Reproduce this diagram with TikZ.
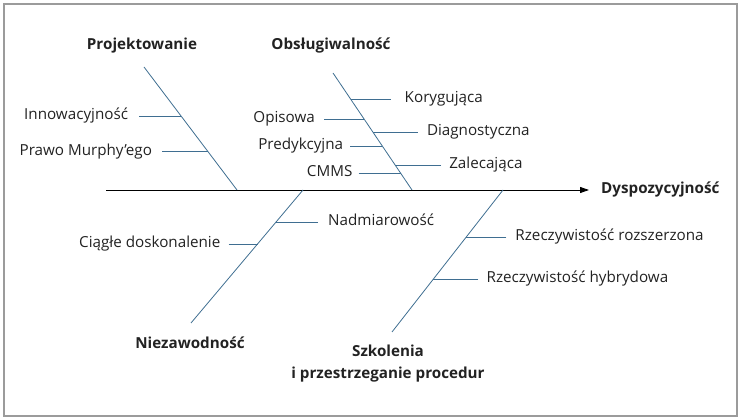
\documentclass[tikz,border=0pt]{standalone}
\usepackage{fontspec}
\setmainfont{Open Sans}
\usetikzlibrary{arrows.meta, positioning, calc}
\definecolor{bonecol}{HTML}{3F6E91}
\definecolor{framegray}{HTML}{9B9B9B}
\definecolor{dkgray}{HTML}{222222}

\begin{document}
\begin{tikzpicture}[
    x=1pt, y=-1pt,
    bone/.style={draw=bonecol, line width=0.8pt},
    twig/.style={draw=bonecol, line width=0.8pt},
    cause/.style={font=\fontsize{15.2}{17}\selectfont, text=dkgray,
        text height=11pt, text depth=3.5pt, inner xsep=#1, inner ysep=1pt},
    cause/.default=9pt,
    head/.style={font=\fontsize{15.2}{22}\selectfont\bfseries, text=dkgray, align=center}
]
\useasboundingbox (0,0) rectangle (741,419);
\draw[framegray, line width=1.2pt] (4,4) rectangle (737,416);

% ===== Spine =====
\coordinate (tail) at (106,190);
\node[head, anchor=west, inner xsep=12pt] (eff) at (589,190) {Dyspozycyjność};
\draw[-{Triangle[length=9pt, width=6pt]}, line width=0.9pt] (tail) -- (eff);

% ===== Projektowanie =====
\node[head] (proj) at (142,46) {Projektowanie};
\coordinate (pj1) at (144,67);
\coordinate (pj2) at (237,190);
\draw[bone] (pj1) -- (pj2);
\coordinate (pjA) at ($(pj1)!0.40!(pj2)$);
\coordinate (pjB) at ($(pj1)!0.69!(pj2)$);
\node[cause=11pt, left=42pt of pjA] (inno) {Innowacyjność};
\node[cause=10pt, left=46pt of pjB] (murphy) {Prawo Murphy’ego};

% ===== Obsługiwalność =====
\node[head] (obsl) at (331,46) {Obsługiwalność};
\coordinate (ob1) at (333,73);
\coordinate (ob2) at (412,190);
\draw[bone] (ob1) -- (ob2);
\coordinate (obA) at ($(ob1)!0.222!(ob2)$);
\coordinate (obB) at ($(ob1)!0.504!(ob2)$);
\coordinate (obC) at ($(ob1)!0.786!(ob2)$);
\coordinate (obD) at ($(ob1)!0.393!(ob2)$);
\coordinate (obE) at ($(ob1)!0.624!(ob2)$);
\coordinate (obF) at ($(ob1)!0.855!(ob2)$);
\node[cause=14pt, right=40pt of obA] (koryg) {Korygująca};
\node[cause, right=45pt of obB] (diagn) {Diagnostyczna};
\node[cause=8pt, right=46pt of obC] (zalec) {Zalecająca};
\node[cause, left=40pt of obD] (opis) {Opisowa};
\node[cause=7pt, left=32pt of obE] (predyk) {Predykcyjna};
\node[cause=6pt, left=42pt of obF] (cmms) {CMMS};

% ===== Niezawodność =====
\node[head] (niez) at (190,343) {Niezawodność};
\coordinate (nz1) at (303,190);
\coordinate (nz2) at (191,323);
\draw[bone] (nz1) -- (nz2);
\coordinate (nzA) at ($(nz1)!0.241!(nz2)$);
\coordinate (nzB) at ($(nz1)!0.406!(nz2)$);
\node[cause=10pt, right=42pt of nzA] (nadm) {Nadmiarowość};
\node[cause=8pt, left=29pt of nzB] (ciagle) {Ciągłe doskonalenie};

% ===== Szkolenia =====
\node[head] (szkol) at (388,364) {Szkolenia\\i przestrzeganie procedur};
\coordinate (sk1) at (503,190);
\coordinate (sk2) at (392,332);
\draw[bone] (sk1) -- (sk2);
\coordinate (skA) at ($(sk1)!0.331!(sk2)$);
\coordinate (skB) at ($(sk1)!0.627!(sk2)$);
\node[cause, right=40pt of skA] (ar) {Rzeczywistość rozszerzona};
\node[cause=8pt, right=45pt of skB] (hr) {Rzeczywistość hybrydowa};

% twigs
\foreach \c/\k in {inno/pjA, murphy/pjB, koryg/obA, diagn/obB, zalec/obC,
    opis/obD, predyk/obE, cmms/obF, nadm/nzA, ciagle/nzB, ar/skA, hr/skB} {
    \draw[twig] (\c) -- (\k);
}

\end{tikzpicture}
\end{document}
